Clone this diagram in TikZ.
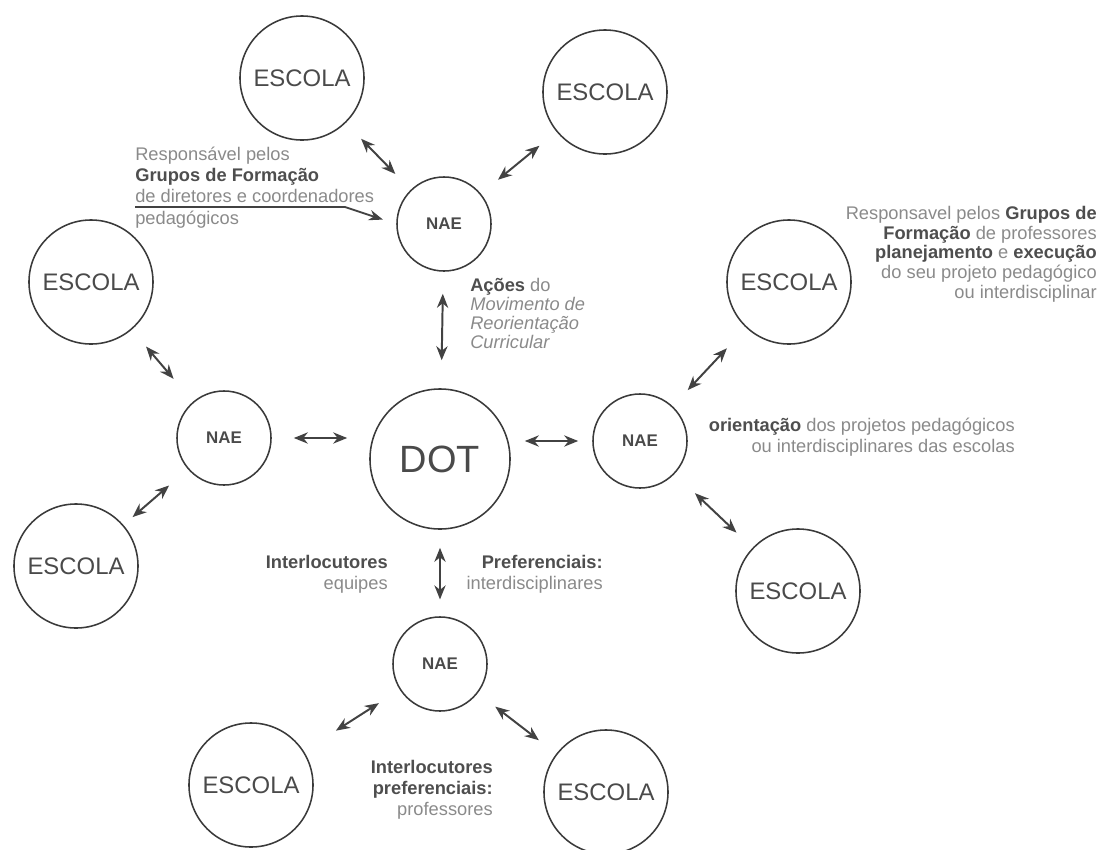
\documentclass[tikz,border=0pt]{standalone}
\usepackage{fontspec}
\setmainfont{Liberation Sans}
\usetikzlibrary{arrows.meta}
\definecolor{corcirc}{HTML}{3A3A3A}
\definecolor{cortextcirc}{HTML}{4A4A4A}
\definecolor{cortextclar}{HTML}{8A8A8A}
\definecolor{cortextfort}{HTML}{4E4E4E}
\definecolor{corseta}{HTML}{424242}
\tikzset{
		circbase/.style={draw=corcirc, circle, line width=1.1pt, inner sep=0pt, text=cortextcirc},
		escola/.style={circbase, minimum size=3.1cm, font=\fontsize{17}{20}\selectfont},
		nae/.style={circbase, minimum size=2.35cm, font=\fontsize{12}{14}\selectfont\bfseries},
		central/.style={circbase, minimum size=3.5cm, font=\fontsize{27}{30}\selectfont},
		nota/.style={inner sep=0pt, text=cortextclar, font=\fontsize{13}{15}\selectfont},
		seta/.style={{Stealth[length=10pt, width=8pt]}-{Stealth[length=10pt, width=8pt]}, line width=1.4pt, draw=corseta, shorten <=0.55cm, shorten >=0.55cm},
		setasimp/.style={-{Stealth[length=10pt, width=7.5pt]}, line width=1.3pt, draw=corseta}
	}
\newcommand{\destaque}[1]{\textcolor{cortextfort}{\textbf{#1}}}

\begin{document}
\begin{tikzpicture}[x=0.025cm, y=-0.025cm]
		\useasboundingbox (0,0) rectangle (1101,850);
		% centro
		\node[central](dotcentr) at (440,459) {DOT};
		% NAE
		\node[nae](naesupe) at (444,224) {NAE};
		\node[nae](naeesqu) at (224,438) {NAE};
		\node[nae](naedire) at (640,441) {NAE};
		\node[nae](naeinfe) at (440,664) {NAE};
		% escolas
		\node[escola](escsupes) at (302,78) {ESCOLA};
		\node[escola](escsupdi) at (605,92) {ESCOLA};
		\node[escola](escesque) at (91,282) {ESCOLA};
		\node[escola](escinfes) at (76,566) {ESCOLA};
		\node[escola](escdirei) at (789,282) {ESCOLA};
		\node[escola](escinfdi) at (798,591) {ESCOLA};
		\node[escola](escbaies) at (251,785) {ESCOLA};
		\node[escola](escbaidi) at (606,792) {ESCOLA};
		% setas
		\draw[seta] (escsupes) -- (naesupe);
		\draw[seta] (escsupdi) -- (naesupe);
		\draw[seta, shorten >=0.7cm] (naesupe) -- (dotcentr);
		\draw[seta, shorten >=0.75cm] (escesque) -- (naeesqu);
		\draw[seta, shorten >=0.3cm, shorten <=0.62cm] (naeesqu) -- (escinfes);
		\draw[seta] (naeesqu.east) -- (naeesqu.east -| dotcentr.west);
		\draw[seta, shorten <=0.35cm, shorten >=0.35cm] (naedire.west -| dotcentr.east) -- (naedire.west);
		\draw[seta, shorten >=0.7cm] (naedire) -- (escdirei);
		\draw[seta, shorten <=0.7cm] (naedire) -- (escinfdi);
		\draw[seta, shorten <=0.45cm, shorten >=0.42cm] (dotcentr) -- (naeinfe);
		\draw[seta, shorten <=0.62cm, shorten >=0.95cm] (naeinfe) -- (escbaies);
		\draw[seta] (naeinfe) -- (escbaidi);
		% textos
		\node[nota, anchor=north west, align=left](txtgrdir) at (135,147) {Responsável pelos\\ \destaque{Grupos de Formação}\\ de diretores e coordenadores\\ pedagógicos};
		\coordinate (sublinha) at (135,207);
		\draw[setasimp, shorten >=0.35cm] (sublinha) -- (345,207) -- (naesupe.west);
		\node[nota, anchor=north west, align=left, font=\fontsize{13}{13.5}\selectfont](txtacoes) at (470,278) {\destaque{Ações} do\\ \textit{Movimento de}\\ \textit{Reorientação}\\ \textit{Curricular}};
		\node[nota, anchor=north east, align=right, font=\fontsize{13}{14}\selectfont](txtgrprf) at (1097,206) {Responsavel pelos \destaque{Grupos de}\\ \destaque{Formação} de professores\\ \destaque{planejamento} e \destaque{execução}\\ do seu projeto pedagógico\\ ou interdisciplinar};
		\node[nota, anchor=north east, align=right](txtorien) at (1015,418) {\destaque{orientação} dos projetos pedagógicos\\ ou interdisciplinares das escolas};
		\node[nota, anchor=north east, align=right](txtinteq) at (388,555) {\destaque{Interlocutores}\\ equipes};
		\node[nota, anchor=north east, align=right](txtprefe) at (603,555) {\destaque{Preferenciais:}\\ interdisciplinares};
		\node[nota, anchor=north east, align=right](txtintpr) at (493,760) {\destaque{Interlocutores}\\ \destaque{preferenciais:}\\ professores};
	\end{tikzpicture}
\end{document}
